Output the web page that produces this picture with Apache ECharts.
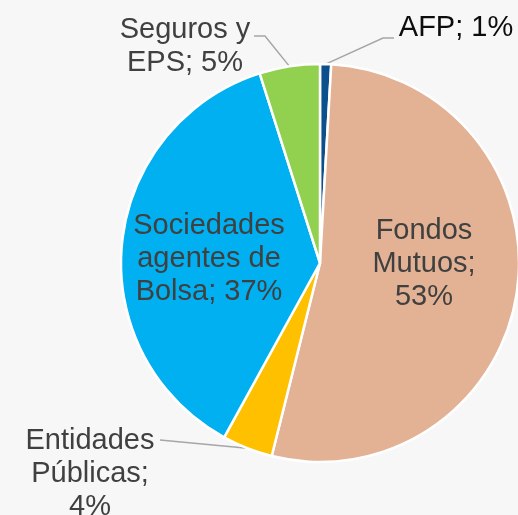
<!DOCTYPE html>
<html>
<head>
<meta charset="utf-8">
<script src="https://cdn.jsdelivr.net/npm/echarts@6/dist/echarts.min.js"></script>
<style>
  html, body { margin: 0; padding: 0; background: #f7f7f7; }
  #chart { width: 518px; height: 515px; }
</style>
</head>
<body>
<div id="chart"></div>
<script>
// participación por tipo de inversionista
var categories = ['AFP', 'Fondos Mutuos', 'Entidades Públicas', 'Sociedades agentes de Bolsa', 'Seguros y EPS'];
var values = [0.9, 53.0, 4.1, 37.1, 4.9];
var labelText = ['AFP; ', 'Fondos\nMutuos;\n', 'Entidades\nPúblicas;\n', 'Sociedades\nagentes de\nBolsa; ', 'Seguros y\nEPS; '];
var colors = ['#0b4f8c', '#e3b294', '#ffc000', '#00b0f0', '#92d050'];
var inside = [false, true, false, true, false];

// posición de cada etiqueta (centro del texto) y quiebre de su línea guía
var labelPos = [[456, 28], [424, 264], [90, 474], [209, 259], [185, 46]];
var guideBend = [[[383, 38], [394, 38]], null, [[160, 440]], null, [[265, 36], [254, 36]]];

var chart = echarts.init(document.getElementById('chart'));

var data = categories.map(function (c, i) {
    var item = { name: c, value: values[i], itemStyle: { color: colors[i] } };
    if (inside[i]) {
        item.label = { position: 'inside' };
        item.labelLine = { show: false };
    }
    return item;
});
data[0].label = { color: '#0d0d0d' };

var option = {
    backgroundColor: '#f7f7f7',
    animation: false,
    series: [{
        type: 'pie',
        center: [320, 263],
        radius: [0, 199],
        startAngle: 90,
        clockwise: true,
        avoidLabelOverlap: false,
        itemStyle: { borderColor: '#ffffff', borderWidth: 2.5 },
        label: {
            show: true,
            fontFamily: 'Liberation Sans, Arial, sans-serif',
            fontSize: 29,
            lineHeight: 33,
            color: '#404040',
            formatter: function (p) {
                return labelText[p.dataIndex] + Math.round(p.percent) + '%';
            }
        },
        labelLine: {
            show: true,
            length: 12,
            length2: 10,
            lineStyle: { color: '#a6a6a6', width: 1.5 }
        },
        labelLayout: function (p) {
            var i = p.dataIndex;
            var res = { x: labelPos[i][0], y: labelPos[i][1], align: 'center', verticalAlign: 'middle' };
            if (guideBend[i] && p.labelLinePoints) {
                res.labelLinePoints = [p.labelLinePoints[0]].concat(guideBend[i]);
            }
            return res;
        },
        data: data
    }]
};
chart.setOption(option);
</script>
</body>
</html>
